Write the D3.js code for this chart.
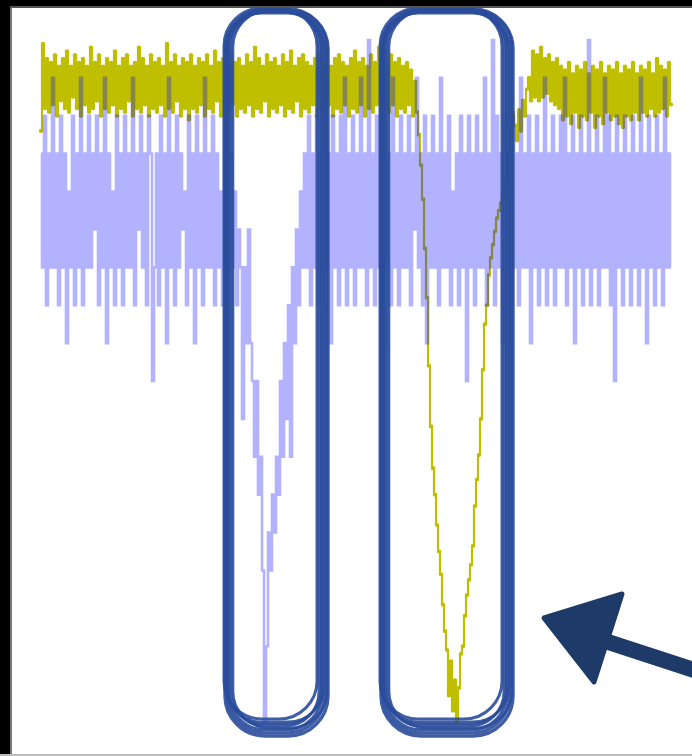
<!DOCTYPE html>
<html>
<head>
<meta charset="utf-8">
<script src="https://cdn.jsdelivr.net/npm/d3@7/dist/d3.min.js"></script>
<style>
  html, body { margin: 0; padding: 0; background: #fff; }
  svg { display: block; }
</style>
</head>
<body>
<script>
// Quantised count trace (one sample per step), drawn as a translucent blue line
const lavenderCounts = [
  15,12,16,11,15,12,17,12,15,11,16,12,15,10,14,12,16,11,15,12,
  17,11,15,12,16,12,15,13,16,11,15,12,17,10,15,12,14,11,16,12,
  15,11,16,12,15,12,17,11,15,13,16,12,15,11,16,15,9,12,15,11,
  16,12,15,10,17,12,15,11,16,12,15,13,14,11,16,12,15,10,16,12,
  15,11,17,12,15,12,16,11,15,12,14,11,16,12,15,
  15,12,14,11,13,12,8,12,10,13,10,9,7,9,6,7,4,0,2,5,
  4,6,5,7,6,9,7,10,8,11,7,12,10,13,11,14,12,15,12,16,11,
  15,12,16,11,15,12,17,12,15,10,16,12,15,11,16,12,17,11,15,12,
  16,11,15,12,17,12,15,11,18,12,15,11,16,12,15,10,16,12,15,11,
  17,12,15,11,16,12,15,12,16,11,15,13,17,12,15,11,16,10,15,12,
  16,12,15,11,17,12,15,12,16,11,14,12,15,11,16,12,15,9,16,12,
  15,11,16,12,15,12,17,11,15,12,18,11,16,12,15,10,16,12,15,11,
  16,12,15,11,17,12,15,12,16,10,15,12,16,11,15,12,17,11,15,12,
  16,11,15,12,16,12,17,11,15,12,16,10,15,12,16,11,15,12,18,11,
  15,12,16,11,15,12,17,12,16,11,15,9,16,12,15,11,16,12,15,11,
  16,12,15,11,17,12,15,10,16,12,15,11,16,12,15,11,17,12,15,12
];

// Smooth signal with a single deep minimum, drawn as a yellow line with dot markers
const yellowSignal = [
  15.6,17.9,16.2,17.5,16.1,17.4,16.3,17.6,16.0,17.3,16.4,17.5,16.2,17.7,16.1,17.3,16.5,17.6,16.2,17.4,
  16.0,17.5,16.3,17.3,16.1,17.8,16.2,17.4,16.4,17.6,16.0,17.3,16.2,17.5,16.1,17.4,16.3,17.7,16.0,17.3,
  16.2,17.5,16.1,17.6,16.4,17.3,16.0,17.4,16.2,17.8,16.1,17.5,16.3,17.3,16.0,17.6,16.2,17.4,16.1,17.5,
  16.3,17.3,16.0,17.9,16.2,17.4,16.1,17.6,16.4,17.3,16.0,17.5,16.2,17.4,15.9,17.6,16.2,17.3,16.1,17.5,
  16.3,17.4,16.0,17.6,16.2,17.3,16.1,17.7,16.4,17.4,16.0,17.5,16.2,17.3,16.1,17.6,16.3,17.4,16.0,17.5,
  16.2,17.3,16.1,17.6,16.3,17.4,16.0,17.8,16.2,17.5,16.1,17.3,16.4,17.6,16.0,17.4,16.2,17.5,16.1,17.3,
  16.3,17.6,16.0,17.4,16.2,17.7,16.1,17.3,16.4,17.5,16.0,17.6,16.2,17.4,16.1,17.3,16.3,17.5,16.0,17.6,
  16.2,17.4,16.1,17.9,16.3,17.3,16.0,17.5,16.2,17.6,16.1,17.4,16.3,17.3,16.0,17.5,16.2,17.7,16.1,17.4,
  16.3,17.5,16.0,17.3,16.2,17.6,16.1,17.4,16.3,17.8,16.0,17.5,16.2,17.3,16.1,17.6,16.3,17.4,16.0,17.5,
  16.2,17.3,16.1,17.4,16.3,17.2,16.0,16.9,
  16.1,15.5,14.7,13.8,12.5,11.2,9.4,7.8,6.7,6.0,5.2,4.5,3.9,3.1,2.4,
  1.9,0.7,1.6,0.3,1.1,0.0,0.9,1.8,2.0,
  2.8,3.35,3.75,4.15,4.65,5.7,6.4,7.05,8.0,9.3,10.5,11.0,11.8,12.25,12.6,12.95,
  13.3,13.5,13.7,13.9,14.2,14.4,14.95,15.6,16.1,15.75,15.35,16.15,15.6,16.4,16.0,16.7,
  17.0,16.4,17.7,16.5,17.6,16.4,17.8,16.5,17.5,16.6,17.6,16.4,17.4,16.3,17.5,16.2,
  17.3,15.9,17.2,16.0,17.4,15.8,17.1,16.1,17.3,15.7,17.2,16.0,17.4,15.9,17.1,16.1,17.3,15.7,17.2,16.0,
  17.4,15.8,17.1,16.1,17.3,15.9,17.2,16.0,17.4,15.8,17.1,15.7,17.3,16.0,17.2,15.9,17.4,16.1,17.1,15.9,
  17.3,16.1,17.2,16.0,17.4,16.2,17.1,16.0,17.5,16.1,17.3,16.2,17.2,16.0,17.4,16.3
];

// Highlight boxes around the two minima: [first sample, last sample]
const highlightSpans = [[91, 144.5], [169, 237]];

const W = 692, H = 756;
const svg = d3.select("body").append("svg")
  .attr("width", W).attr("height", H);

svg.append("rect").attr("width", W).attr("height", H).attr("fill", "#fff");

const x = d3.scaleLinear().domain([0, lavenderCounts.length - 1]).range([41, 671]);
const y = d3.scaleLinear().domain([0, 18]).range([722, 40]);

const plot = svg.append("g");

// yellow trace: stepped line + dot markers
plot.append("path")
  .datum(yellowSignal)
  .attr("d", d3.line().curve(d3.curveStep).x((d, i) => x(i)).y(d => y(d)))
  .attr("fill", "none")
  .attr("stroke", "#bfbf00")
  .attr("stroke-width", 2.2);
plot.append("g").selectAll("circle")
  .data(yellowSignal)
  .join("circle")
  .attr("cx", (d, i) => x(i))
  .attr("cy", d => y(d))
  .attr("r", 2.1)
  .attr("fill", "#bfbf00");

// translucent blue count trace on top
plot.append("path")
  .datum(lavenderCounts)
  .attr("d", d3.line().curve(d3.curveStep).x((d, i) => x(i)).y(d => y(d)))
  .attr("fill", "none")
  .attr("stroke", "rgb(0,0,255)")
  .attr("stroke-opacity", 0.3)
  .attr("stroke-width", 2.6)
  .attr("stroke-linejoin", "miter");

// hand-drawn style rounded boxes: several offset strokes per box
function roundedRect(x0, y0, x1, y1, r) {
  const p = d3.path();
  p.moveTo(x0 + r, y0);
  p.lineTo(x1 - r, y0);
  p.arcTo(x1, y0, x1, y0 + r, r);
  p.lineTo(x1, y1 - r);
  p.arcTo(x1, y1, x1 - r, y1, r);
  p.lineTo(x0 + r, y1);
  p.arcTo(x0, y1, x0, y1 - r, r);
  p.lineTo(x0, y0 + r);
  p.arcTo(x0, y0, x0 + r, y0, r);
  p.closePath();
  return p.toString();
}

// per-stroke insets: [left, top, right, bottom, radius, width]
const sketchStrokes = [
  [2, 9, 2, 736, 40, 3.4],
  [4, 10, 5, 733, 38, 3.2],
  [6, 11, 8, 730, 36, 3.4],
  [8, 12, 11, 726, 34, 3.0],
  [3, 13, 6, 722, 36, 2.8],
  [1, 8, 13, 719, 38, 3.0],
  [10, 10, 3, 728, 37, 2.6],
  [5, 12, 9, 724, 35, 2.2]
];

const boxes = svg.append("g");
highlightSpans.forEach(([a, b]) => {
  const xa = x(a), xb = x(b);
  sketchStrokes.forEach(([dl, t, dr, bt, r, w]) => {
    boxes.append("path")
      .attr("d", roundedRect(xa + dl, t, xb - dr, bt, r))
      .attr("fill", "none")
      .attr("stroke", "#2a4c9b")
      .attr("stroke-width", w)
      .attr("stroke-opacity", 0.9);
  });
});

// arrow pointing at the right-hand box
const arrow = svg.append("g").attr("fill", "#1d3a68").attr("stroke", "#1d3a68");
arrow.append("line")
  .attr("x1", 602).attr("y1", 640).attr("x2", 700).attr("y2", 672)
  .attr("stroke-width", 16);
arrow.append("path")
  .attr("d", "M544,618 L622,594 L594,682 Z")
  .attr("stroke-width", 5)
  .attr("stroke-linejoin", "round");

// dark frame on the top and left edges, thin grey line along the bottom
svg.append("rect").attr("x", 0).attr("y", 0).attr("width", W).attr("height", 6).attr("fill", "#000");
svg.append("rect").attr("x", 0).attr("y", 6).attr("width", W).attr("height", 2).attr("fill", "#555");
svg.append("rect").attr("x", 0).attr("y", 0).attr("width", 10).attr("height", H).attr("fill", "#000");
svg.append("rect").attr("x", 10).attr("y", 8).attr("width", 2).attr("height", H).attr("fill", "#777");
svg.append("rect").attr("x", 0).attr("y", 754).attr("width", W).attr("height", 2).attr("fill", "#bbb");
</script>
</body>
</html>
